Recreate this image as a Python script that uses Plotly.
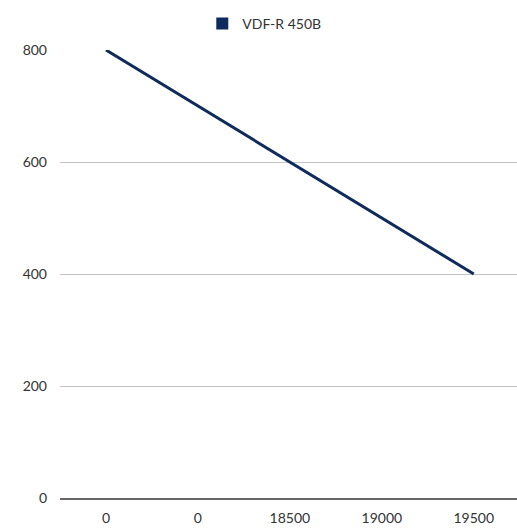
import plotly.graph_objects as go

categories = ["0", "0", "18500", "19000", "19500"]
values = [800, 700, 600, 500, 400]
series_name = "VDF-R 450B"
y_ticks = [0, 200, 400, 600, 800]

color = "#0f2b5b"
idx = list(range(len(categories)))

fig = go.Figure()
fig.add_trace(go.Scatter(x=idx, y=values, mode="lines", line=dict(color=color, width=3),
                         showlegend=False, name=series_name))
fig.add_trace(go.Scatter(x=[None], y=[None], mode="markers", name=series_name,
                         marker=dict(symbol="square", size=12, color=color)))

fig.update_layout(
    width=517, height=529,
    margin=dict(l=60, r=0, t=50, b=31, autoexpand=False),
    paper_bgcolor="white", plot_bgcolor="white",
    font=dict(family="Lato, sans-serif", size=14, color="#333333"),
    legend=dict(orientation="h", x=0.447, xanchor="center", y=0.985, yanchor="top",
                yref="container", font=dict(size=14, color="#333333"),
                itemsizing="constant"),
    xaxis=dict(tickmode="array", tickvals=idx, ticktext=categories,
               range=[-0.5, 4.47], showgrid=False, zeroline=False,
               showline=True, linecolor="#666666", linewidth=2,
               ticks="", ticklabelstandoff=6),
    yaxis=dict(tickmode="array", tickvals=y_ticks, range=[0, 800],
               showgrid=True, gridcolor="#c4c4c4", gridwidth=1,
               zeroline=False, showline=False, ticks="", ticklabelstandoff=12),
)
fig.write_html("out.html", config={"displayModeBar": False},
               post_script="document.body.style.margin='0';document.body.style.overflow='hidden';")
